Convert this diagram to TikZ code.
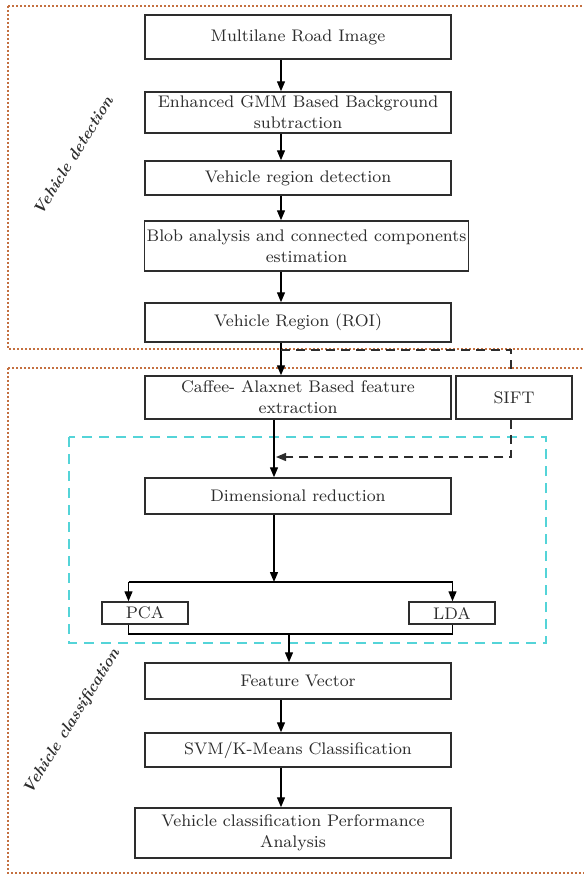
\documentclass[tikz,border=0pt]{standalone}
\usetikzlibrary{arrows.meta}
\definecolor{dotbrown}{RGB}{196,112,64}
\definecolor{dashcyan}{RGB}{84,212,216}
\definecolor{boxgray}{RGB}{45,45,45}
\tikzset{
  stepbox/.style={draw=boxgray, line width=0.75pt, minimum width=153pt, inner sep=1pt,
    align=center, text=boxgray, font=\fontsize{8.4}{10.5}\selectfont},
  smallbox/.style={stepbox, minimum width=43pt, minimum height=11pt},
  arr/.style={-{Triangle[length=5pt,width=4pt]}, line width=0.7pt},
  link/.style={line width=0.7pt},
  sidedash/.style={line width=0.75pt, dash pattern=on 4.5pt off 3pt, draw=boxgray},
  stagebox/.style={draw=dotbrown, line width=1pt, dash pattern=on 1pt off 1pt},
  reducebox/.style={draw=dashcyan, line width=1pt, dash pattern=on 5pt off 3.5pt},
  stagelabel/.style={rotate=58, text=boxgray, font=\fontsize{8}{9}\selectfont\bfseries\itshape}
}
\begin{document}
\begin{tikzpicture}[x=0.5pt, y=-0.5pt]
	\useasboundingbox (0,0) rectangle (584,875);
	\fill [white] (0,0) rectangle (584,875);
	\coordinate (ax) at (281,0);

	% vehicle detection
	\draw [stagebox] (8,6) rectangle (600,349);
	\node [stagelabel] (detlabel) at (73,156) {Vehicle detection};
	\node [stepbox, minimum height=22pt] (road) at (298,37) {Multilane Road Image};
	\node [stepbox, minimum height=20.5pt] (gmm) at (298,112.5) {Enhanced GMM Based Background\\subtraction};
	\node [stepbox, minimum height=17pt] (vrd) at (298,178) {Vehicle region detection};
	\node [stepbox, minimum width=161.5pt, minimum height=25pt] (blob) at (306.5,246) {Blob analysis and connected components\\estimation};
	\node [stepbox, minimum height=19.5pt] (roi) at (298,322.5) {Vehicle Region (ROI)};
	\draw [arr] (road.south -| ax) -- (gmm.north -| ax);
	\draw [arr] (gmm.south -| ax) -- (vrd.north -| ax);
	\draw [arr] (vrd.south -| ax) -- (blob.north -| ax);
	\draw [arr] (blob.south -| ax) -- (roi.north -| ax);

	% vehicle classification
	\draw [stagebox] (8,368) rectangle (600,873);
	\draw [reducebox] (69,437) rectangle (546,643);
	\node [stagelabel] (clslabel) at (72,722) {Vehicle classification};
	\node [stepbox, minimum height=21.5pt] (caffe) at (298,397.5) {Caffee- Alaxnet Based feature\\extraction};
	\node [stepbox, minimum width=58pt, minimum height=21.5pt] (sift) at (514,397.5) {SIFT};
	\node [stepbox, minimum height=18pt] (dimred) at (298,496) {Dimensional reduction};
	\node [smallbox] (pca) at (145,613) {PCA};
	\node [smallbox] (lda) at (452,613) {LDA};
	\node [stepbox, minimum height=18pt] (fvec) at (298,681) {Feature Vector};
	\node [stepbox, minimum height=17pt] (svm) at (298,750) {SVM/K-Means Classification};
	\node [stepbox, minimum width=158pt, minimum height=25pt] (perf) at (293,833) {Vehicle classification Performance\\Analysis};

	\coordinate (fork) at (281,350);
	\coordinate (siftin) at (511,350);
	\coordinate (siftout) at (511,457);
	\coordinate (merge) at (276,457);
	\coordinate (split) at (274,582);
	\coordinate (join) at (289,634);
	\draw [arr] (roi.south -| ax) -- (caffe.north -| ax);
	\draw [sidedash] (fork) -- (siftin) -- (sift.north -| siftin);
	\draw [arr] (caffe.south -| split) -- (dimred.north -| split);
	\draw [sidedash, arr] (sift.south -| siftout) -- (siftout) -- (merge);
	\draw [arr] (dimred.south -| split) -- (split);
	\draw [link] (split -| 128.5,0) -- (split -| 452.5,0);
	\draw [arr] (split -| 128.5,0) -- (pca.north -| 128.5,0);
	\draw [arr] (split -| 452.5,0) -- (lda.north -| 452.5,0);
	\draw [link] (pca.south -| 128.5,0) -- (join -| 128.5,0) -- (join -| 452.5,0) -- (lda.south -| 452.5,0);
	\draw [arr] (join) -- (fvec.north -| join);
	\draw [arr] (fvec.south -| ax) -- (svm.north -| ax);
	\draw [arr] (svm.south -| ax) -- (perf.north -| ax);
\end{tikzpicture}
\end{document}
